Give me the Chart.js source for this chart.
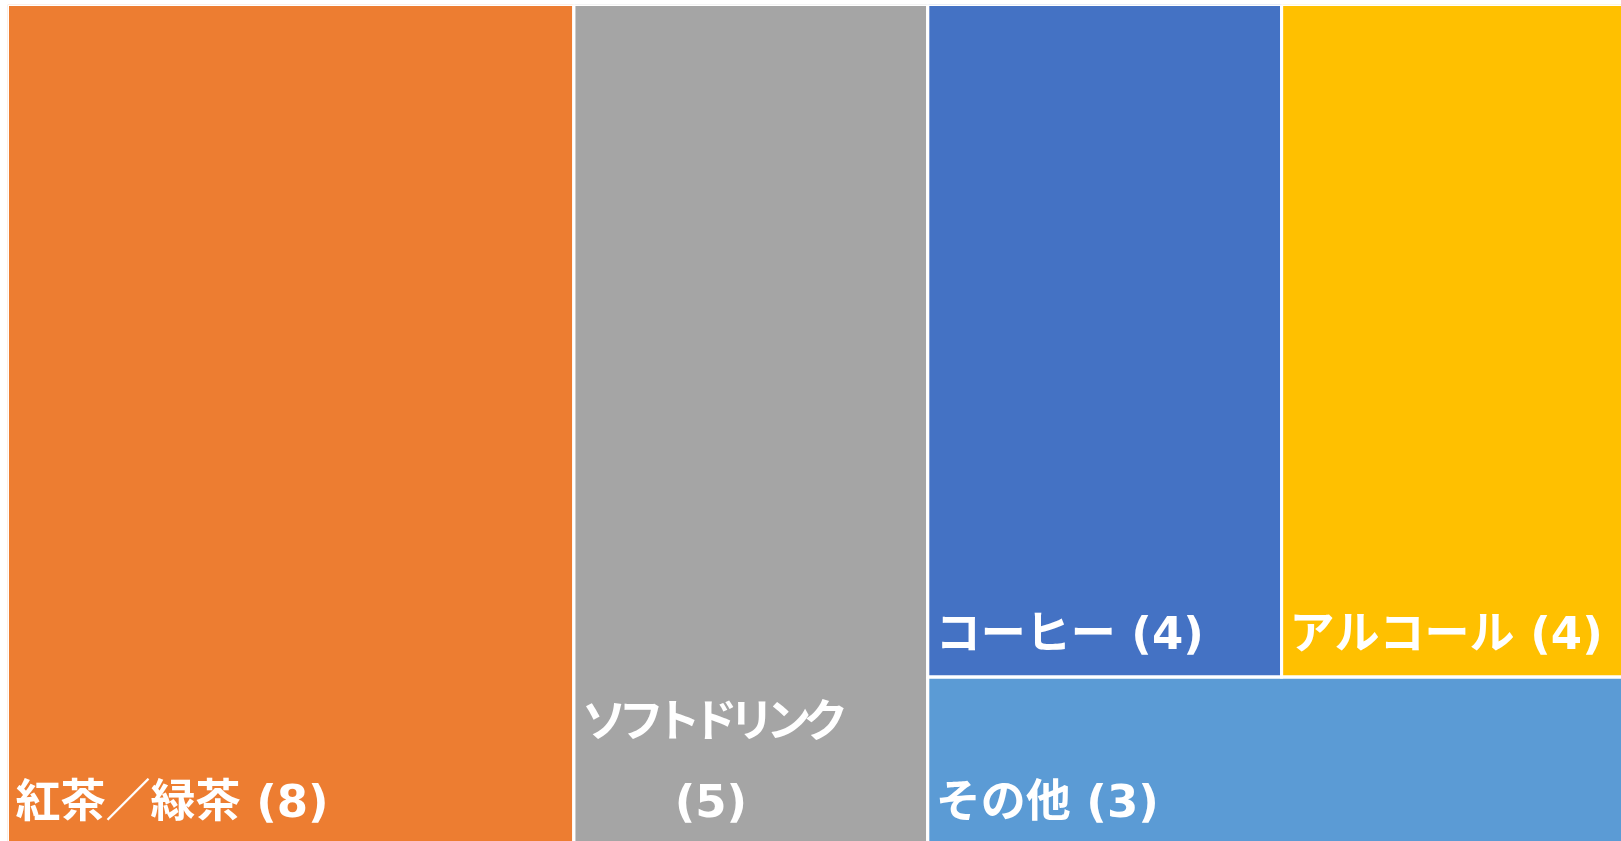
<!DOCTYPE html>
<html><head><meta charset="utf-8">
<script src="https://cdn.jsdelivr.net/npm/chart.js@4/dist/chart.umd.min.js"></script>
<style>
html,body{margin:0;padding:0;background:#fff;overflow:hidden;width:1621px;height:841px}
#wrap{position:absolute;left:0;top:0;width:1650px;height:860px}
</style>
</head><body><div id="wrap"><canvas id="c" width="1650" height="860"></canvas></div>
<script>
// ---- data ----
const categories = ['紅茶／緑茶 (8)', 'ソフトドリンク (5)', 'コーヒー (4)', 'アルコール (4)', 'その他 (3)'];
const values = [8, 5, 4, 4, 2];
const colors = ['#ED7D31', '#A5A5A5', '#4472C4', '#FFC000', '#5B9BD5'];

// ---- treemap layout (value units: height 1, width = sum of values) ----
// columns: [0], [1], then a column holding a row [2,3] above [4]
const total = values.reduce((a, b) => a + b, 0);
const rects = [];
let cx = 0;
[[0], [1]].forEach(g => {
  const w = g.reduce((s, i) => s + values[i], 0);
  rects[g[0]] = {x0: cx, x1: cx + w, y0: 0, y1: 1};
  cx += w;
});
(function () {
  const row = [2, 3], rest = [4];
  const w = [...row, ...rest].reduce((s, i) => s + values[i], 0);
  const rowSum = row.reduce((s, i) => s + values[i], 0);
  const hRow = rowSum / w;
  let x = cx;
  row.forEach(i => {
    const wi = values[i] / rowSum * w;
    rects[i] = {x0: x, x1: x + wi, y0: 0, y1: hRow};
    x += wi;
  });
  rects[4] = {x0: cx, x1: cx + w, y0: hRow, y1: 1};
  cx += w;
})();

const datasets = rects.map((r, i) => ({
  label: categories[i],
  data: [{x: r.x0, y: r.y0}, {x: r.x1, y: r.y0}, {x: r.x1, y: r.y1}, {x: r.x0, y: r.y1}, {x: r.x0, y: r.y0}],
  backgroundColor: colors[i],
  borderColor: '#ffffff',
  borderWidth: 3,
  pointRadius: 0,
  tension: 0,
  fill: 'shape'
}));

const FSIZE = 45;
const FONT = 'bold ' + FSIZE + 'px "DejaVu Sans", "Noto Sans CJK JP"';
const PADX = 8, PADB = 28, LH = 80;
const KANA_ONLY = /^[\u3040-\u30ff]+$/;   // kana-only lines are set proportionally (tighter)

function spacingFor(line) {
  return KANA_ONLY.test(line) ? -0.18 * FSIZE : 0;
}

const labelPlugin = {
  id: 'tmLabels',
  afterDatasetsDraw(chart) {
    const {ctx, scales: {x, y}} = chart;
    ctx.save();
    ctx.fillStyle = '#ffffff';
    ctx.font = FONT;
    ctx.textBaseline = 'alphabetic';
    ctx.textAlign = 'left';
    const measure = l => { ctx.letterSpacing = spacingFor(l) + 'px'; return ctx.measureText(l).width; };
    rects.forEach((r, i) => {
      const left = x.getPixelForValue(r.x0);
      const right = x.getPixelForValue(r.x1);
      const bottom = y.getPixelForValue(r.y1);
      const avail = right - left - 2 * PADX;
      const text = categories[i];
      let lines = [text];
      if (measure(text) > avail && text.lastIndexOf(' ') > 0) {
        const k = text.lastIndexOf(' ');
        lines = [text.slice(0, k), text.slice(k + 1)];
      }
      const widths = lines.map(measure);
      const bw = Math.max(...widths);
      lines.forEach((l, j) => {
        const by = bottom - PADB - (lines.length - 1 - j) * LH;
        ctx.letterSpacing = spacingFor(l) + 'px';
        ctx.fillText(l, left + PADX + (bw - widths[j]) / 2, by);
      });
    });
    ctx.restore();
  }
};

new Chart(document.getElementById('c'), {
  type: 'line',
  data: {datasets},
  options: {
    responsive: false,
    animation: false,
    events: [],
    layout: {padding: {left: 7.5, top: 4.5, right: 14.5, bottom: 15}},
    scales: {
      x: {type: 'linear', min: 0, max: total, display: false},
      y: {type: 'linear', min: 0, max: 1, reverse: true, display: false}
    },
    plugins: {
      legend: {display: false},
      tooltip: {enabled: false},
      filler: {drawTime: 'beforeDatasetsDraw'}
    }
  },
  plugins: [labelPlugin]
});
</script>
</body></html>
